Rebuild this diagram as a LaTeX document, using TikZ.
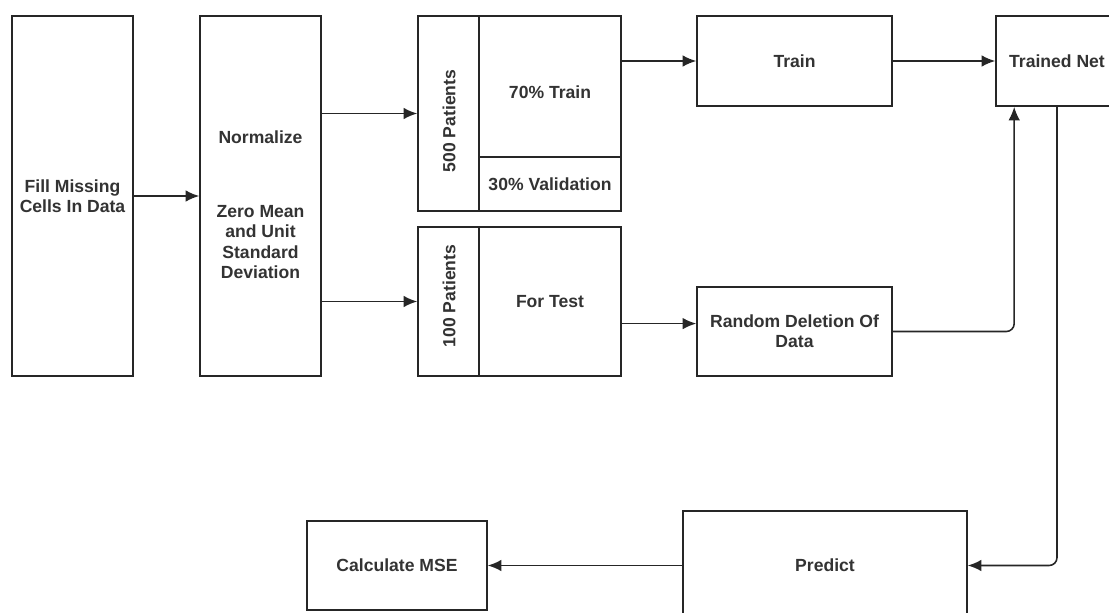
\documentclass[tikz,border=0pt]{standalone}
\usepackage{fontspec}
\setmainfont{Liberation Sans}
\usetikzlibrary{arrows.meta,calc}
\tikzset{
	blok/.style={draw=black!85, line width=0.9pt, fill=white, inner sep=0pt},
	txt/.style={font=\bfseries\fontsize{10}{11.5}\selectfont, text=black!80, align=center},
	flow/.style={draw=black!85, line width=0.9pt, -{Latex[length=2.7mm,width=2.3mm]}}
}

\begin{document}
\begin{tikzpicture}[x=0.02cm,y=-0.02cm]
		\useasboundingbox (0,0) rectangle (1109,612);
		\clip (0,0) rectangle (1109,612);
		% preparation
		\node[blok, txt, minimum width=2.42cm, minimum height=7.2cm] (fill) at (72.5,196) {Fill Missing\\Cells In Data};
		\node[blok, minimum width=2.42cm, minimum height=7.2cm] (norm) at (260.5,196) {};
		\node[txt] (normtxt) at (260.5,137) {Normalize};
		\node[txt] (zmtxt) at (260.5,242) {Zero Mean\\and Unit\\Standard\\Deviation};
		% split of the patients
		\node[blok, minimum width=1.22cm, minimum height=3.9cm] (col500) at (448.5,113.5) {};
		\node[txt, rotate=90] (lab500) at (449,121) {500 Patients};
		\node[blok, minimum width=2.84cm, minimum height=2.82cm] (tr70) at (550,86.5) {};
		\node[txt] (tr70txt) at (550,92) {70\% Train};
		\node[blok, txt, minimum width=2.84cm, minimum height=1.08cm] (val30) at (550,184) {30\% Validation};
		\node[blok, minimum width=1.22cm, minimum height=2.98cm] (col100) at (448.5,301.5) {};
		\node[txt, rotate=90] (lab100) at (449,296) {100 Patients};
		\node[blok, txt, minimum width=2.84cm, minimum height=2.98cm] (test) at (550,301.5) {For Test};
		% network
		\node[blok, txt, minimum width=3.9cm, minimum height=1.8cm] (train) at (794.5,61) {Train};
		\node[blok, txt, minimum width=2.44cm, minimum height=1.8cm] (tnet) at (1057,61) {Trained Net};
		\node[blok, txt, minimum width=3.9cm, minimum height=1.78cm] (rdel) at (794.5,331.5) {Random Deletion Of\\Data};
		\node[blok, txt, minimum width=5.68cm, minimum height=2.18cm] (pred) at (825,565.5) {Predict};
		\node[blok, txt, minimum width=3.6cm, minimum height=1.78cm] (mse) at (397,565.5) {Calculate MSE};
		\coordinate (rdelin) at ([yshift=4.5pt]rdel.west);
		\coordinate (tnetin) at ([xshift=10.8pt]tnet.south west);
		% connectors
		\draw[flow] (fill.east) -- (norm.west);
		\draw[flow] (norm.east |- col500.west) -- (col500.west);
		\draw[flow] (norm.east |- col100.west) -- (col100.west);
		\draw[flow] (tr70.east |- train.west) -- (train.west);
		\draw[flow] (train.east) -- (tnet.west);
		\draw[flow] (test.east |- rdelin) -- (rdelin);
		\draw[flow, rounded corners=4.5pt] (rdel.east) -| (tnetin);
		\draw[flow, rounded corners=4.5pt] (tnet.south) |- (pred.east);
		\draw[flow] (pred.west) -- (mse.east);
	\end{tikzpicture}
\end{document}
